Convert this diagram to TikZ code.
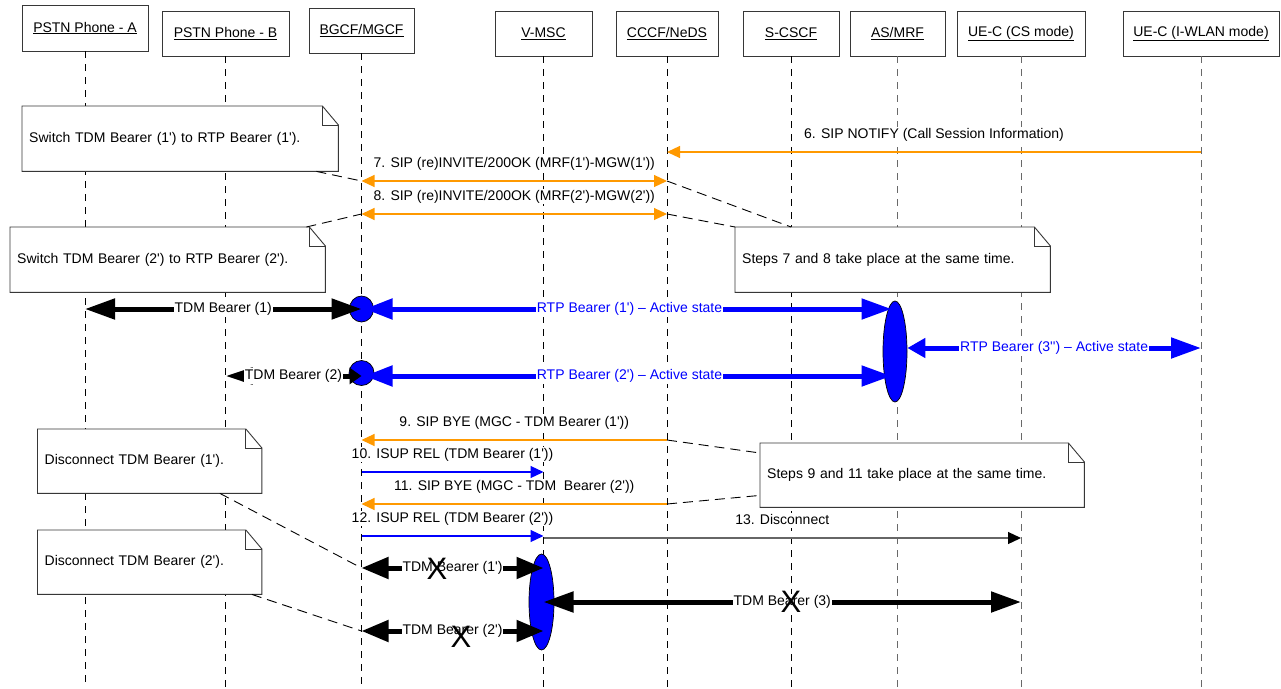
\documentclass[tikz,border=0pt]{standalone}
\usepackage{fontspec}
\setmainfont{Liberation Sans}[Ligatures=TeXOff]
\usepackage{xcolor}
\definecolor{sipor}{RGB}{255,153,0}
\definecolor{rtpblue}{RGB}{0,0,255}
\definecolor{lifegray}{RGB}{105,105,105}
\definecolor{ink}{RGB}{55,55,55}
\usepackage{tikz}
\usetikzlibrary{arrows.meta,positioning,calc,shapes.geometric}
\newcommand\lbl{\fontsize{14}{16}\selectfont}
\tikzset{
  actor/.style={draw=ink, fill=white, line width=0.9pt, minimum height=45pt,
                inner sep=0pt, font=\lbl},
  lifeline/.style={draw=black, line width=0.9pt, dash pattern=on 7pt off 6pt},
  note/.style={fill=white, inner xsep=7pt, inner ysep=0pt, minimum height=65pt,
               align=left, anchor=north west, font=\lbl},
  notelink/.style={draw=black, line width=0.9pt, dash pattern=on 10pt off 6pt},
  msglbl/.style={above=9pt, inner sep=1pt, fill=white, text depth=3pt, font=\lbl},
  sipmsg/.style={draw=sipor, line width=1.2pt, -{Triangle[length=13pt,width=12pt]}},
  sipboth/.style={draw=sipor, line width=1.2pt,
                  {Triangle[length=13pt,width=12pt]}-{Triangle[length=13pt,width=12pt]}},
  isupmsg/.style={draw=rtpblue, line width=1.2pt, -{Triangle[length=13pt,width=12pt]}},
  discmsg/.style={draw=black!60, line width=1.2pt,
                  -{Triangle[length=13pt,width=12pt,color=black]}},
  bearerdot/.style={ellipse, draw=black, fill=rtpblue, inner sep=0pt, line width=0.7pt},
  tdm/.style={draw=black, line width=5pt,
              {Triangle[length=30pt,width=20pt]}-{Triangle[length=30pt,width=20pt]}},
  rtp/.style={draw=rtpblue, line width=5pt,
              {Triangle[length=28pt,width=20pt]}-{Triangle[length=30pt,width=20pt]}},
  bearerlbl/.style={midway, fill=white, inner sep=1pt, font=\lbl},
  cutmark/.style={inner sep=0pt, font=\fontsize{31}{31}\selectfont},
}
\newcommand\dogear[1]{%
  \draw[draw=ink, line width=0.9pt] (#1.south west) -- (#1.north west)
    -- ([xshift=-16pt]#1.north east) -- ([yshift=-19pt]#1.north east)
    -- (#1.south east) -- cycle;
  \draw[draw=ink, line width=0.9pt] ([xshift=-16pt]#1.north east)
    |- ([yshift=-19pt]#1.north east);}

\begin{document}
\begin{tikzpicture}[x=1pt,y=-1pt]
\useasboundingbox (0,0) rectangle (1281,688);
\coordinate (bottom) at (0,688);
\coordinate (r6) at (0,152);
\coordinate (r7) at (0,181);
\coordinate (r8) at (0,214);
\coordinate (rone) at (0,309);
\coordinate (rthree) at (0,348);
\coordinate (rtwo) at (0,376);
\coordinate (r9) at (0,440);
\coordinate (r10) at (0,472);
\coordinate (r11) at (0,504);
\coordinate (r12) at (0,536);
\coordinate (r13) at (0,538);
\coordinate (cutone) at (0,568);
\coordinate (cutthree) at (0,602);
\coordinate (cuttwo) at (0,631);

% participants
\node[actor, minimum width=126pt, minimum height=46pt] (pstnA) at (85,28) {\underline{PSTN Phone - A}};
\node[actor, minimum width=127pt] (pstnB) at (225.5,33.5) {\underline{PSTN Phone - B}};
\node[actor, minimum width=105pt] (bgcf) at (361.5,30.5) {\underline{BGCF/MGCF}};
\node[actor, minimum width=97pt] (vmsc) at (543.5,33.5) {\underline{V-MSC}};
\node[actor, minimum width=102pt] (cccf) at (667,33.5) {\underline{CCCF/NeDS}};
\node[actor, minimum width=96pt] (scscf) at (791,33.5) {\underline{S-CSCF}};
\node[actor, minimum width=95pt] (asmrf) at (897.5,33.5) {\underline{AS/MRF}};
\node[actor, minimum width=128pt] (uecs) at (1021,33.5) {\underline{UE-C (CS mode)}};
\node[actor, minimum width=156pt] (uewlan) at (1201,33.5) {\underline{UE-C (I-WLAN mode)}};

\foreach \n in {pstnA,pstnB,bgcf,vmsc,cccf,scscf}
  \draw[lifeline] (\n.south) -- (\n.south |- bottom);
\foreach \n in {asmrf,uecs,uewlan}
  \draw[lifeline, draw=lifegray] (\n.south) -- (\n.south |- bottom);

% notes
\node[note, text width=302pt] (swOne) at (22,106) {Switch TDM Bearer (1') to RTP Bearer (1').};
\dogear{swOne}
\node[note, text width=301pt] (swTwo) at (10,227) {Switch TDM Bearer (2') to RTP Bearer (2').};
\dogear{swTwo}
\node[note, text width=301pt] (stepsA) at (735,227) {Steps 7 and 8 take place at the same time.};
\dogear{stepsA}
\node[note, text width=310pt, minimum height=64pt] (stepsB) at (760,443) {Steps 9 and 11 take place at the same time.};
\dogear{stepsB}
\node[note, text width=210pt, minimum height=64pt] (discOne) at (37.5,429) {Disconnect TDM Bearer (1').};
\dogear{discOne}
\node[note, text width=210pt, minimum height=64pt] (discTwo) at (37.5,530) {Disconnect TDM Bearer (2').};
\dogear{discTwo}

\draw[notelink] ([xshift=-22pt]swOne.south east) -- (bgcf |- r7);
\draw[notelink] ([xshift=-19pt]swTwo.north east) -- (bgcf |- r8);
\draw[notelink] (cccf |- r7) -- (scscf |- stepsA.north);
\draw[notelink] (cccf |- r8) -- (stepsA.north west);
\draw[notelink] (cccf |- r9) -- ([yshift=-10pt]stepsB.north west);
\draw[notelink] (cccf |- r11) -- ([yshift=12pt]stepsB.south west);
\draw[notelink] ([xshift=-42pt]discOne.south east) -- (bgcf |- cutone);
\draw[notelink] ([xshift=-10pt]discTwo.south east) -- (bgcf |- cuttwo);

% signalling
\draw[sipmsg] (uewlan |- r6) -- (cccf |- r6) node[msglbl, midway] {6. SIP NOTIFY (Call Session Information)};
\draw[sipboth] (bgcf |- r7) -- (cccf |- r7) node[msglbl, midway] {7. SIP (re)INVITE/200OK (MRF(1')-MGW(1'))};
\draw[sipboth] (bgcf |- r8) -- (cccf |- r8) node[msglbl, midway] {8. SIP (re)INVITE/200OK (MRF(2')-MGW(2'))};
\draw[sipmsg] (cccf |- r9) -- (bgcf |- r9) node[msglbl, midway] {9. SIP BYE (MGC - TDM Bearer (1'))};
\draw[isupmsg] (bgcf |- r10) -- (vmsc |- r10) node[msglbl, midway] {10. ISUP REL (TDM Bearer (1'))};
\draw[sipmsg] (cccf |- r11) -- (bgcf |- r11) node[msglbl, midway] {11. SIP BYE (MGC - TDM\ \ Bearer (2'))};
\draw[isupmsg] (bgcf |- r12) -- (vmsc |- r12) node[msglbl, midway] {12. ISUP REL (TDM Bearer (2'))};
\draw[discmsg] (vmsc |- r13) -- (uecs |- r13) node[msglbl, midway] {13. Disconnect};

% bearers
\node[bearerdot, minimum width=24pt, minimum height=26pt] (mgwOne) at (bgcf |- rone) {};
\node[bearerdot, minimum width=25pt, minimum height=25pt] (mgwTwo) at (361.5,373) {};
\node[bearerdot, minimum width=24pt, minimum height=101pt] (mrfDot) at (895,351.5) {};
\node[bearerdot, minimum width=25pt, minimum height=96pt] (mscDot) at (541.5,602) {};

\draw[tdm] (pstnA |- rone) -- (mgwOne.center) node[bearerlbl] {TDM Bearer (1)};
\draw[tdm, {Triangle[length=27pt,width=16pt]}-{Triangle[length=12pt,width=16pt]}]
  (pstnB |- rtwo) -- (bgcf |- rtwo) node[bearerlbl] {TDM Bearer (2)};
\draw[rtp, shorten <=3pt, shorten >=6pt] (mgwOne.center) -- (asmrf |- rone)
  node[bearerlbl, text=rtpblue] {RTP Bearer (1') – Active state};
\draw[rtp, shorten <=3pt, shorten >=6pt] (bgcf |- rtwo) -- (asmrf |- rtwo)
  node[bearerlbl, text=rtpblue] {RTP Bearer (2') – Active state};
\draw[rtp, {Triangle[length=18pt,width=19pt]}-{Triangle[length=30pt,width=20pt]}]
  (mrfDot.east |- rthree) -- (uewlan |- rthree)
  node[bearerlbl, text=rtpblue] {RTP Bearer (3'') – Active state};

\draw[tdm, {Triangle[length=27pt,width=21pt]}-{Triangle[length=27pt,width=21pt]}]
  (bgcf |- cutone) -- (vmsc |- cutone) node[bearerlbl] {TDM Bearer (1')};
\draw[tdm, {Triangle[length=27pt,width=21pt]}-{Triangle[length=27pt,width=21pt]}]
  (bgcf |- cuttwo) -- (vmsc |- cuttwo) node[bearerlbl] {TDM Bearer (2')};
\draw[tdm] (vmsc |- cutthree) -- (uecs |- cutthree) node[bearerlbl] {TDM Bearer (3)};
\node[cutmark] (cutA) at (437,569) {X};
\node[cutmark] (cutB) at (461,637) {X};
\node[cutmark] (cutC) at (scscf |- cutthree) {X};
\end{tikzpicture}
\end{document}
